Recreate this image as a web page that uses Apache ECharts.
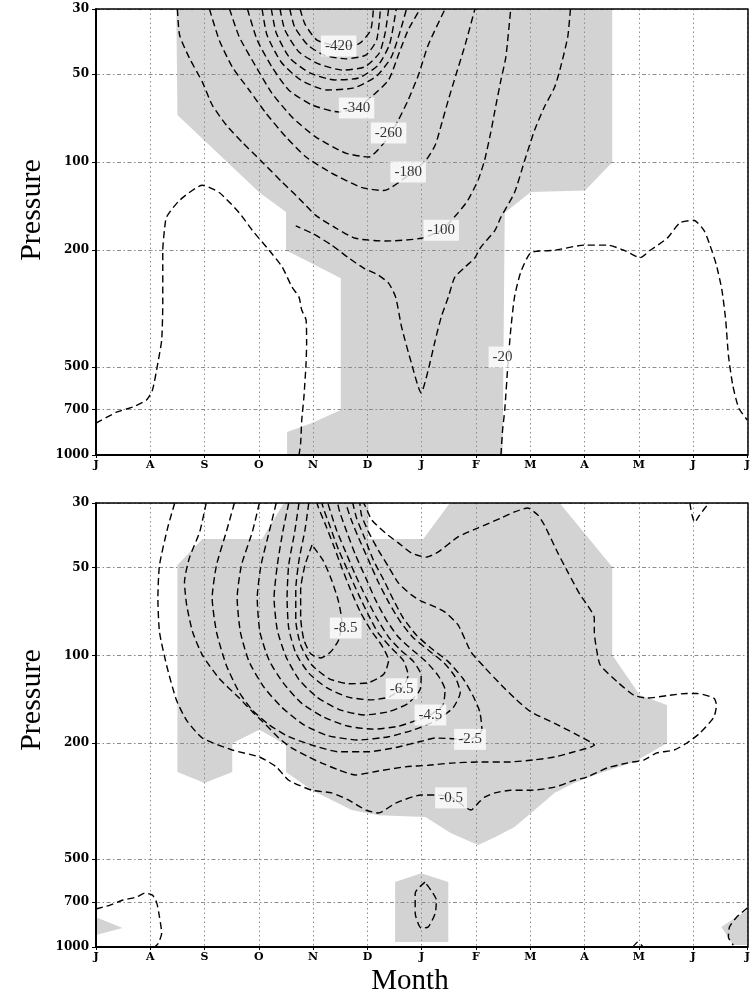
<!DOCTYPE html>
<html>
<head>
<meta charset="utf-8">
<script src="https://cdn.jsdelivr.net/npm/echarts@6/dist/echarts.min.js"></script>
<style>
  html, body { margin: 0; padding: 0; background: #fff; }
  #chart { width: 753px; height: 997px; }
</style>
</head>
<body>
<div id="chart"></div>
<script>
const MONTHS = ['J', 'A', 'S', 'O', 'N', 'D', 'J', 'F', 'M', 'A', 'M', 'J', 'J'];
const P_TICKS = [30, 50, 100, 200, 500, 700, 1000];

// upper panel contours, points are [month index, pressure hPa]
const topLoop20 = [[0,778],[0.39,713],[0.68,686],[0.93,649],[1.04,600],[1.14,485],[1.21,405],[1.23,303],[1.23,200],[1.26,171],[1.30,154],[1.54,135],[1.96,120],[2.27,127],[2.64,149],[2.88,171],[3.19,200],[3.43,228],[3.61,267],[3.74,289],[3.79,320],[3.87,346],[3.88,415],[3.87,485],[3.83,634],[3.79,760],[3.77,910],[3.74,1000]];
const topV20 = [[8.74,30],[8.69,37.4],[8.56,47.3],[8.45,55.4],[8.26,64.8],[8.08,77.7],[7.90,98.3],[7.71,127],[7.46,154],[7.35,171],[7.09,195],[6.98,212],[6.80,228],[6.61,247],[6.49,289],[6.36,338],[6.25,405],[6.12,513],[5.99,614],[5.81,485],[5.63,366],[5.52,289],[5.39,259],[5.20,243],[4.93,230],[4.65,212],[4.34,192],[4.01,176],[3.68,165]];
const topRight20 = [[7.46,1000],[7.49,822],[7.53,702],[7.59,485],[7.64,374],[7.71,289],[7.82,239],[8.01,204],[8.45,200],[9.00,192],[9.42,192],[9.73,200],[10.02,212],[10.21,200],[10.52,182],[10.76,161],[11.01,158],[11.20,171],[11.31,192],[11.43,225],[11.53,273],[11.60,346],[11.65,456],[11.73,577],[11.84,691],[12,760]];
const top100 = [[1.50,30],[1.54,36.8],[1.72,44.1],[1.96,53.3],[2.14,63.8],[2.40,74.7],[2.69,85.4],[3.06,99.9],[3.43,117],[3.74,133],[4.05,152],[4.42,168],[4.78,182],[5.33,186],[5.99,182],[6.36,171],[6.67,149],[6.85,135],[7.04,115],[7.16,98.3],[7.27,79.5],[7.35,66.4],[7.46,52.4],[7.55,43.8],[7.64,30]];
const top180 = [[2.09,30],[2.27,38.3],[2.51,47.3],[2.82,56.7],[3.13,68.0],[3.50,82.1],[3.87,96.1],[4.34,109],[4.89,122],[5.30,125],[5.75,111],[6.08,98.3],[6.25,87.4],[6.36,74.7],[6.49,61.4],[6.63,50.4],[6.80,39.8],[6.98,30]];
const top260 = [[2.46,30],[2.64,37.4],[2.95,47.3],[3.24,58.1],[3.61,70.1],[4.05,82.1],[4.60,93.1],[5.02,96.1],[5.35,84.0],[5.57,71.8],[5.75,61.4],[5.94,50.4],[6.12,39.8],[6.43,30]];
const top340 = [[2.79,30],[2.97,38.3],[3.24,47.3],[3.55,56.7],[3.98,63.8],[4.47,67.4],[4.80,65.3],[5.11,59.0],[5.39,52.4],[5.57,43.1],[5.75,35.4],[5.97,30]];
const topInner1 = [[3.06,30],[3.15,36.8],[3.41,45.5],[3.77,52.4],[4.25,56.7],[4.75,55.8],[5.17,50.8],[5.44,43.8],[5.61,35.4],[5.72,30]];
const topInner2 = [[3.23,30],[3.32,36.2],[3.57,44.1],[3.94,49.6],[4.40,52.4],[4.84,51.6],[5.20,46.6],[5.41,39.5],[5.53,30]];
const topInner3 = [[3.39,30],[3.48,35.4],[3.74,42.1],[4.10,46.2],[4.54,48.5],[4.95,47.3],[5.22,42.4],[5.33,36.0],[5.39,30]];
const topInner4 = [[3.57,30],[3.66,34.6],[3.90,39.8],[4.20,43.1],[4.60,44.4],[4.97,43.1],[5.17,38.3],[5.24,30]];
const top420 = [[3.76,30],[3.85,33.8],[4.07,38.3],[4.47,40.1],[4.84,39.5],[5.06,35.4],[5.11,30]];

const topShade = [[1.48,30],[9.51,30],[9.51,100],[9.01,125],[8.01,126.5],[7.53,149],[7.49,1000],[3.52,1000],[3.52,835],[3.98,778],[4.51,702],[4.51,249],[3.50,200],[3.50,148],[3.01,127],[1.50,69.0]];

const topLabels = [[4.47,40.1,'-420'],[4.80,65.3,'-340'],[5.39,79.5,'-260'],[5.75,108,'-180'],[6.36,171,'-100'],[7.49,463,'-20']];

// lower panel contours
const bot05 = [[1.45,30],[1.32,36.5],[1.17,49.0],[1.14,63.5],[1.17,83.1],[1.30,108],[1.48,142],[1.67,167],[1.96,192],[2.51,211],[3.01,223],[3.32,241],[3.55,268],[3.98,290],[4.34,296],[4.65,313],[4.97,339],[5.20,347],[5.52,321],[5.99,301],[6.25,301],[6.54,306],[6.91,339],[7.04,321],[7.16,306],[7.35,296],[7.64,290],[8.01,290],[8.45,283],[8.81,268],[9.05,261],[9.42,243],[9.78,234],[10.10,228],[10.33,216],[10.65,211],[10.88,200],[11.12,185],[11.38,163],[11.43,148],[11.38,140],[11.07,135],[10.88,135],[10.57,137],[10.15,140],[9.91,137],[9.60,123],[9.29,108],[9.23,97.4],[9.18,83.1],[9.18,74.4],[9.05,67.1],[8.92,62.0],[8.69,51.7],[8.50,44.2],[8.26,35.7],[8.14,33.0],[7.95,31.2],[7.71,32.2],[7.46,33.8],[7.04,36.5],[6.67,39.2],[6.30,44.2],[6.08,46.0],[5.81,44.5],[5.57,41.1],[5.33,38.0],[5.08,34.3],[4.97,31.0],[4.93,30]];
const bot15 = [[2.03,30],[1.91,37.7],[1.72,46.3],[1.63,56.0],[1.67,67.1],[1.78,83.1],[1.96,99.7],[2.27,120],[2.64,140],[2.88,156],[3.13,173],[3.37,192],[3.61,208],[3.92,223],[4.16,234],[4.47,247],[4.78,257],[5.20,249],[5.70,241],[6.12,238],[6.54,234],[7.04,232],[7.59,232],[8.08,228],[8.45,223],[8.81,214],[9.18,203],[8.81,185],[8.45,171],[8.01,156],[7.71,140],[7.46,126],[7.16,110],[6.91,97.4],[6.67,78.6],[6.43,71.0],[6.25,68.2],[5.99,65.1],[5.81,62.0],[5.57,56.4],[5.39,49.7],[5.20,43.5],[5.02,37.7],[4.89,33.0],[4.86,30]];
const bot25 = [[2.55,30],[2.40,37.7],[2.22,49.0],[2.14,63.5],[2.22,83.1],[2.40,108],[2.64,134],[2.88,154],[3.19,173],[3.55,190],[3.98,203],[4.47,214],[5.02,214],[5.57,206],[5.99,197],[6.25,192],[6.89,194],[7.11,180],[7.07,156],[6.94,137],[6.76,120],[6.49,105],[6.17,94.3],[5.90,85.1],[5.66,74.4],[5.48,64.5],[5.30,55.1],[5.11,47.1],[4.95,39.6],[4.80,33.8],[4.73,30]];
const bot35 = [[3.01,30],[2.88,37.7],[2.68,49.0],[2.60,63.5],[2.66,83.1],[2.82,105],[3.10,129],[3.43,151],[3.83,173],[4.25,188],[4.84,195],[5.39,190],[5.85,180],[6.27,167],[6.58,151],[6.71,134],[6.61,118],[6.41,106],[6.12,95.8],[5.85,87.1],[5.61,76.8],[5.39,65.6],[5.20,56.0],[5.02,47.1],[4.84,39.6],[4.69,33.8],[4.60,30]];
const bot45 = [[3.32,30],[3.19,37.7],[3.04,49.0],[2.97,63.5],[3.02,83.1],[3.19,104],[3.46,125],[3.79,146],[4.20,163],[4.65,175],[5.11,179],[5.57,175],[5.90,167],[6.16,160],[6.39,148],[6.43,131],[6.30,117],[6.08,105],[5.83,95.8],[5.57,86.5],[5.35,75.6],[5.15,64.5],[4.97,54.2],[4.78,45.2],[4.62,37.7],[4.49,32.2],[4.45,30]];
const bot55 = [[3.55,30],[3.44,37.7],[3.34,49.0],[3.28,63.5],[3.34,81.8],[3.50,101],[3.74,121],[4.07,139],[4.47,153],[4.93,160],[5.39,156],[5.75,146],[5.97,131],[5.99,117],[5.85,105],[5.61,95.8],[5.39,86.5],[5.17,74.4],[4.97,63.0],[4.78,53.0],[4.60,44.2],[4.43,37.1],[4.31,31.7],[4.27,30]];
const bot65 = [[3.74,30],[3.66,37.7],[3.55,49.0],[3.52,63.5],[3.55,80.5],[3.68,98.1],[3.92,115],[4.25,129],[4.65,139],[5.06,142],[5.39,139],[5.63,130],[5.75,117],[5.66,104],[5.44,94.3],[5.20,83.8],[5.02,72.7],[4.84,62.0],[4.65,51.7],[4.47,43.5],[4.32,36.5],[4.20,31.7],[4.16,30]];
const bot75 = [[3.92,30],[3.85,37.1],[3.74,47.1],[3.68,59.6],[3.68,75.6],[3.77,92.1],[3.98,108],[4.29,120],[4.65,125],[5.02,124],[5.30,116],[5.39,104],[5.26,92.1],[5.06,81.8],[4.87,71.0],[4.69,59.6],[4.53,50.1],[4.38,42.1],[4.23,35.7],[4.10,31.2],[4.07,30]];
const bot85 = [[3.98,41.8],[3.85,49.0],[3.77,59.6],[3.77,73.8],[3.83,88.5],[3.96,98.9],[4.14,102],[4.32,97.4],[4.47,88.5],[4.53,76.8],[4.47,65.6],[4.34,55.1],[4.18,47.1],[3.98,41.8]];
const botCornerL = [[0,741],[0.26,718],[0.50,690],[0.75,674],[0.90,653],[1.04,664],[1.12,707],[1.17,790],[1.21,896],[1.15,970],[1.08,1000]];
const botCornerR = [[12,735],[11.80,790],[11.67,854],[11.65,925],[11.74,985]];
const botTopJ = [[10.94,30],[10.98,33.0],[11.03,34.9],[11.12,33.0],[11.29,30]];
const botRingJ = [[6.06,599],[5.88,653],[5.88,765],[5.99,861],[6.12,854],[6.25,765],[6.27,690],[6.17,638],[6.06,599]];
const botTinyM = [[9.89,1000],[9.98,962],[10.08,1000]];

const botShadeMain = [[1.50,49.0],[1.96,39.9],[3.06,39.9],[3.46,30],[5.02,30],[5.02,39.9],[6.03,39.9],[6.52,30],[8.54,30],[9.51,49.7],[9.51,99.7],[10.02,137],[10.52,148],[10.52,200],[9.91,232],[9.29,253],[8.81,274],[8.45,296],[8.08,339],[7.71,388],[7.35,420],[7.04,447],[6.54,407],[6.07,358],[5.20,353],[4.71,339],[4.34,313],[3.98,290],[3.50,251],[3.50,203],[3.01,180],[2.51,200],[2.51,251],[2.00,274],[1.50,251]];
const botShadeJ = [[5.51,599],[5.99,558],[6.49,599],[6.49,962],[5.51,962]];
const botShadeL = [[0,790],[0.49,861],[0,910]];
const botShadeR = [[12,747],[11.52,854],[11.74,985],[12,985]];

const botLabels = [[4.60,80.5,'-8.5'],[5.63,130,'-6.5'],[6.16,160,'-4.5'],[6.89,194,'-2.5'],[6.54,308,'-0.5']];

const GRID_LINE = '#8c8c8c';
const TICK_FONT = 'DejaVu Serif';

const lineSeries = (data, gi) => ({
  type: 'line',
  xAxisIndex: gi,
  yAxisIndex: gi,
  data,
  symbol: 'none',
  smooth: 0.2,
  silent: true,
  z: 5,
  lineStyle: { color: '#000', width: 1.4, type: [7, 4] }
});

const shadeSeries = (polys, gi) => ({
  type: 'custom',
  xAxisIndex: gi,
  yAxisIndex: gi,
  silent: true,
  z: 1,
  clip: true,
  data: polys.map((poly) => poly[0]),
  renderItem: (params, api) => ({
    type: 'polygon',
    shape: { points: polys[params.dataIndex].map((pt) => api.coord(pt)) },
    style: { fill: '#d3d3d3' }
  })
});

const labelSeries = (items, gi) => ({
  type: 'scatter',
  xAxisIndex: gi,
  yAxisIndex: gi,
  data: items,
  symbolSize: 1,
  silent: true,
  z: 6,
  itemStyle: { color: 'rgba(0,0,0,0)' },
  label: {
    show: true,
    position: 'inside',
    formatter: (p) => p.value[2],
    color: '#000',
    fontFamily: 'Liberation Serif',
    fontSize: 15,
    backgroundColor: '#fff',
    padding: [3, 4]
  }
});

const xMonth = (gi) => ({
  gridIndex: gi,
  type: 'value',
  min: 0,
  max: 12,
  interval: 1,
  position: 'bottom',
  z: 3,
  axisLine: { onZero: false, lineStyle: { color: '#000', width: 2 } },
  axisTick: { length: 3, lineStyle: { color: '#000' } },
  axisLabel: {
    margin: 5,
    color: '#000',
    fontFamily: TICK_FONT,
    fontWeight: 'bold',
    fontSize: 11,
    formatter: (v) => MONTHS[v]
  },
  splitLine: { show: true, lineStyle: { color: GRID_LINE, width: 1, type: [1.5, 3] } }
});

const xFrame = (gi) => ({
  gridIndex: gi,
  type: 'value',
  min: 0,
  max: 12,
  position: 'top',
  z: 3,
  axisLine: { onZero: false, lineStyle: { color: '#000', width: 1.5 } },
  axisTick: { show: false },
  axisLabel: { show: false },
  splitLine: { show: false }
});

const yPressure = (gi) => ({
  gridIndex: gi,
  type: 'log',
  logBase: 10,
  min: 30,
  max: 1000,
  inverse: true,
  z: 3,
  axisLine: { show: true, onZero: false, lineStyle: { color: '#000', width: 2 } },
  axisTick: { show: true, length: 4, customValues: P_TICKS, lineStyle: { color: '#000' } },
  axisLabel: {
    customValues: P_TICKS,
    margin: 7,
    color: '#000',
    fontFamily: TICK_FONT,
    fontWeight: 'bold',
    fontSize: 12,
    formatter: (v) => String(v)
  },
  minorTick: { show: false },
  splitLine: { show: true, lineStyle: { color: GRID_LINE, width: 1, type: [4, 2.5, 1.5, 2.5] } }
});

const yFrame = (gi) => ({
  gridIndex: gi,
  type: 'value',
  min: 0,
  max: 1,
  position: 'right',
  z: 3,
  axisLine: { show: true, onZero: false, lineStyle: { color: '#000', width: 1.5 } },
  axisTick: { show: false },
  axisLabel: { show: false },
  splitLine: { show: false }
});

const topLines = [topLoop20, topV20, topRight20, top100, top180, top260, top340, topInner1, topInner2, topInner3, topInner4, top420];
const botLines = [bot05, bot15, bot25, bot35, bot45, bot55, bot65, bot75, bot85, botCornerL, botCornerR, botTopJ, botRingJ, botTinyM];

const chart = echarts.init(document.getElementById('chart'));
chart.setOption({
  animation: false,
  backgroundColor: '#fff',
  grid: [
    { left: 96, top: 9, width: 655, height: 446 },
    { left: 96, top: 503, width: 655, height: 444 }
  ],
  xAxis: [xMonth(0), xMonth(1), xFrame(0), xFrame(1)],
  yAxis: [yPressure(0), yPressure(1), yFrame(0), yFrame(1)],
  graphic: [
    {
      type: 'text', x: 32, y: 210, rotation: Math.PI / 2,
      style: { text: 'Pressure', font: '30px "Liberation Serif"', fill: '#000', align: 'center', verticalAlign: 'middle' }
    },
    {
      type: 'text', x: 32, y: 700, rotation: Math.PI / 2,
      style: { text: 'Pressure', font: '30px "Liberation Serif"', fill: '#000', align: 'center', verticalAlign: 'middle' }
    },
    {
      type: 'text', x: 410, y: 981,
      style: { text: 'Month', font: '29px "Liberation Serif"', fill: '#000', align: 'center', verticalAlign: 'middle' }
    }
  ],
  series: [
    shadeSeries([topShade], 0),
    shadeSeries([botShadeMain, botShadeJ, botShadeL, botShadeR], 1),
    ...topLines.map((d) => lineSeries(d, 0)),
    ...botLines.map((d) => lineSeries(d, 1)),
    labelSeries(topLabels, 0),
    labelSeries(botLabels, 1)
  ]
});
</script>
</body>
</html>
